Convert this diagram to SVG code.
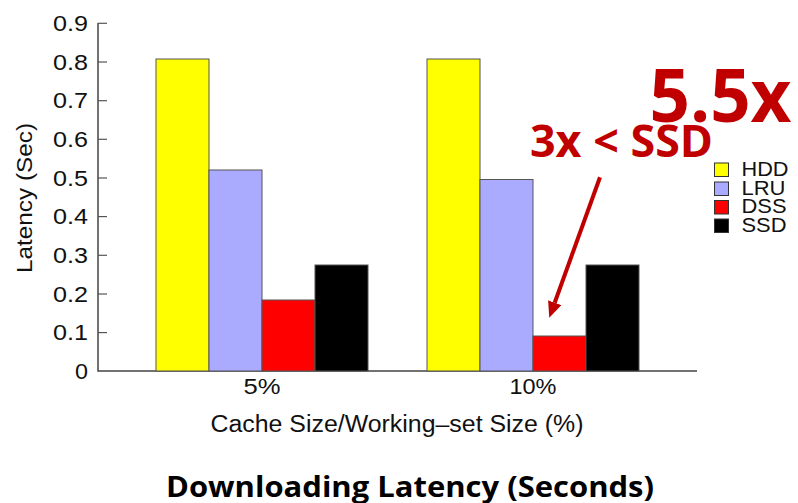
<svg xmlns="http://www.w3.org/2000/svg" width="798" height="503" viewBox="0 0 798 503">
  <style>
    .bar { stroke: #555; stroke-width: 1; }
    .hdd { fill: #ffff00; }
    .lru { fill: #aaaaff; }
    .dss { fill: #ff0000; }
    .ssd { fill: #000000; }
    .axis { stroke: #444; stroke-width: 1.5; fill: none; }
    .tick { stroke: #555; stroke-width: 1.2; }
    .lbl { font-family: "Liberation Sans", Arial, sans-serif; fill: #111; }
    .ticklbl { font-size: 22px; text-anchor: end; }
    .callout { font-family: "Open Sans", "Liberation Sans", sans-serif; font-weight: bold; fill: #c00000; }
    .title { font-family: "Open Sans", "Liberation Sans", sans-serif; font-weight: bold; fill: #000; }
    .legbox { stroke: #333; stroke-width: 1; }
  </style>
  <defs>
    <marker id="arrowhead" markerUnits="userSpaceOnUse" markerWidth="17" markerHeight="15" refX="0" refY="7" orient="auto">
      <path d="M0,0 L16,7 L0,14 z" fill="#c00000"/>
    </marker>
  </defs>

  <rect width="798" height="503" fill="#ffffff"/>

  <!-- axes -->
  <g id="axes">
    <path class="axis" d="M98,23 L98,371 L697,371"/>
    <g class="tick">
      <line x1="98" y1="23.3" x2="107" y2="23.3"/>
      <line x1="98" y1="62" x2="107" y2="62"/>
      <line x1="98" y1="100.7" x2="107" y2="100.7"/>
      <line x1="98" y1="139.3" x2="107" y2="139.3"/>
      <line x1="98" y1="178" x2="107" y2="178"/>
      <line x1="98" y1="216.6" x2="107" y2="216.6"/>
      <line x1="98" y1="255.3" x2="107" y2="255.3"/>
      <line x1="98" y1="294" x2="107" y2="294"/>
      <line x1="98" y1="332.6" x2="107" y2="332.6"/>
    </g>
    <g class="lbl ticklbl">
      <text x="88" y="31" textLength="35" lengthAdjust="spacingAndGlyphs">0.9</text>
      <text x="88" y="69.7" textLength="35" lengthAdjust="spacingAndGlyphs">0.8</text>
      <text x="88" y="108.4" textLength="35" lengthAdjust="spacingAndGlyphs">0.7</text>
      <text x="88" y="147" textLength="35" lengthAdjust="spacingAndGlyphs">0.6</text>
      <text x="88" y="185.7" textLength="35" lengthAdjust="spacingAndGlyphs">0.5</text>
      <text x="88" y="224.3" textLength="35" lengthAdjust="spacingAndGlyphs">0.4</text>
      <text x="88" y="263" textLength="35" lengthAdjust="spacingAndGlyphs">0.3</text>
      <text x="88" y="301.7" textLength="35" lengthAdjust="spacingAndGlyphs">0.2</text>
      <text x="88" y="340.3" textLength="35" lengthAdjust="spacingAndGlyphs">0.1</text>
      <text x="88" y="379" textLength="13" lengthAdjust="spacingAndGlyphs">0</text>
    </g>
    <text class="lbl" font-size="22" text-anchor="middle" transform="translate(32,198) rotate(-90)" textLength="150" lengthAdjust="spacingAndGlyphs">Latency (Sec)</text>
    <text class="lbl" font-size="22" x="262" y="393.5" text-anchor="middle" textLength="37" lengthAdjust="spacingAndGlyphs">5%</text>
    <text class="lbl" font-size="22" x="533" y="393.5" text-anchor="middle" textLength="47" lengthAdjust="spacingAndGlyphs">10%</text>
    <text class="lbl" font-size="23" x="397" y="431.5" text-anchor="middle" textLength="373" lengthAdjust="spacingAndGlyphs">Cache Size/Working–set Size (%)</text>
  </g>

  <!-- 5% group -->
  <g id="group-5">
    <rect class="bar hdd" x="156" y="59" width="53" height="312"/>
    <rect class="bar lru" x="209" y="170" width="53" height="201"/>
    <rect class="bar dss" x="262" y="300" width="53" height="71"/>
    <rect class="bar ssd" x="315" y="265" width="53" height="106"/>
  </g>

  <!-- 10% group -->
  <g id="group-10">
    <rect class="bar hdd" x="427" y="59" width="53" height="312"/>
    <rect class="bar lru" x="480" y="179.5" width="53" height="191.5"/>
    <rect class="bar dss" x="533" y="336" width="53" height="35"/>
    <rect class="bar ssd" x="586" y="265" width="53" height="106"/>
  </g>

  <!-- legend -->
  <g id="legend">
    <rect class="legbox hdd" x="714.5" y="163" width="14" height="13.5"/>
    <rect class="legbox lru" x="714.5" y="182" width="14" height="13.5"/>
    <rect class="legbox dss" x="714.5" y="200.5" width="14" height="13.5"/>
    <rect class="legbox ssd" x="714.5" y="219" width="14" height="13.5"/>
    <g class="lbl" font-size="19.5">
      <text x="741.5" y="175.5" textLength="47" lengthAdjust="spacingAndGlyphs">HDD</text>
      <text x="741.5" y="194.5" textLength="44" lengthAdjust="spacingAndGlyphs">LRU</text>
      <text x="741.5" y="213.3" textLength="45" lengthAdjust="spacingAndGlyphs">DSS</text>
      <text x="741.5" y="232.3" textLength="45" lengthAdjust="spacingAndGlyphs">SSD</text>
    </g>
  </g>

  <!-- callouts -->
  <g id="callout-55x">
    <text class="callout" x="649.5" y="121.5" font-size="74" textLength="142" lengthAdjust="spacingAndGlyphs">5.5x</text>
  </g>
  <g id="callout-3x">
    <text class="callout" x="530" y="157" font-size="45" textLength="183" lengthAdjust="spacingAndGlyphs">3x &lt; SSD</text>
  </g>

  <!-- connectors -->
  <g id="connectors">
    <line x1="600" y1="177.3" x2="554.7" y2="302.7" stroke="#c00000" stroke-width="4" marker-end="url(#arrowhead)"/>
  </g>

  <!-- caption -->
  <g id="caption">
    <text class="title" x="410" y="496.5" font-size="28" text-anchor="middle" textLength="488" lengthAdjust="spacingAndGlyphs">Downloading Latency (Seconds)</text>
  </g>
</svg>
